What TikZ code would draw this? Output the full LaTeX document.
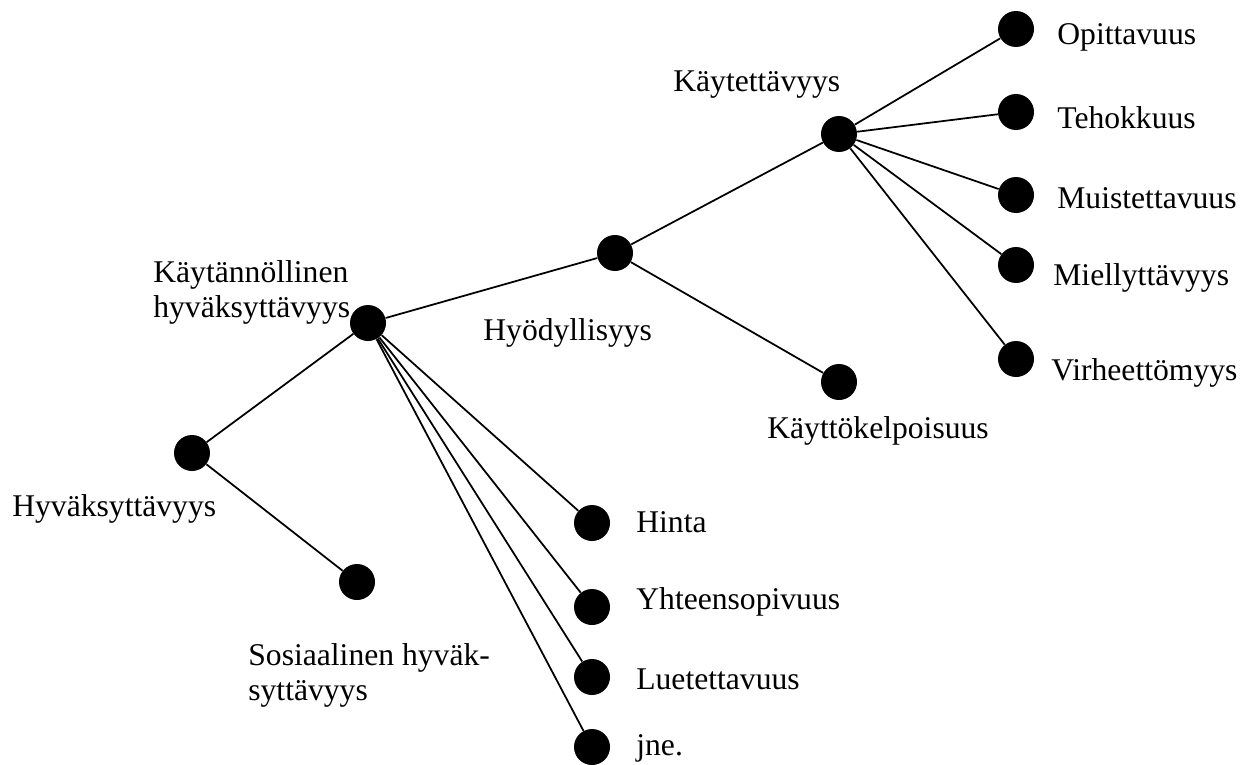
\documentclass[tikz,border=0pt]{standalone}
\usepackage{fontspec}
\setmainfont{Liberation Serif}
\usetikzlibrary{positioning}

\begin{document}
\begin{tikzpicture}[
  x=0.02cm, y=-0.02cm,
  dot/.style={circle, fill=black, inner sep=0pt, minimum size=0.72cm},
  branch/.style={line width=1pt, draw=black},
  lbl/.style={font=\fontsize{18}{20}\selectfont, inner sep=0pt, anchor=base west},
  lbltwo/.style={font=\fontsize{18}{20}\selectfont, inner sep=0pt, anchor=north west, align=left},
]
\useasboundingbox (0,0) rectangle (1246,764);
% inner dots of the tree
\node[dot] (hyv)    at (192,453) {};
\node[dot] (sos)    at (357,582) {};
\node[dot] (kaytan) at (368,323) {};
\node[dot] (hyod)   at (615,253) {};
\node[dot] (kaytet) at (839,134) {};
\node[dot] (kelp)   at (839,382) {};
\draw[branch] (hyv) -- (sos);
\draw[branch] (hyv) -- (kaytan);
\draw[branch] (kaytan) -- (hyod);
\draw[branch] (hyod) -- (kaytet);
\draw[branch] (hyod) -- (kelp);
% leaves under Käytettävyys
\foreach \n/\y in {opit/29, teho/112, muist/195, miell/265, virhe/359} {
  \node[dot] (\n) at (1016,\y) {};
  \draw[branch] (kaytet) -- (\n);
}
% leaves under Käytännöllinen hyväksyttävyys
\foreach \n/\y in {hinta/523, yht/607, luet/677, jne/747} {
  \node[dot] (\n) at (592,\y) {};
  \draw[branch] (kaytan) -- (\n);
}

% labels
\node[lbl] (hyvL)    at (12,516)   {Hyväksyttävyys};
\node[lbltwo] (sosL) at (248,643)  {Sosiaalinen hyväk-\\syttävyys};
\node[lbltwo] (kaytanL) at (153,260) {Käytännöllinen\\hyväksyttävyys};
\node[lbl] (hyodL)   at (483,340)  {Hyödyllisyys};
\node[lbl] (kaytetL) at (673,91)   {Käytettävyys};
\node[lbl] (kelpL)   at (767,438)  {Käyttökelpoisuus};
\node[lbl] (opitL)   at (1057,44)  {Opittavuus};
\node[lbl] (tehoL)   at (1057,128) {Tehokkuus};
\node[lbl] (muistL)  at (1057,208) {Muistettavuus};
\node[lbl] (miellL)  at (1053,285) {Miellyttävyys};
\node[lbl] (virheL)  at (1051,380) {Virheettömyys};
\node[lbl] (hintaL)  at (636,532)  {Hinta};
\node[lbl] (yhtL)    at (636,609)  {Yhteensopivuus};
\node[lbl] (luetL)   at (636,689)  {Luetettavuus};
\node[lbl] (jneL)    at (636,755)  {jne.};
\end{tikzpicture}
\end{document}
